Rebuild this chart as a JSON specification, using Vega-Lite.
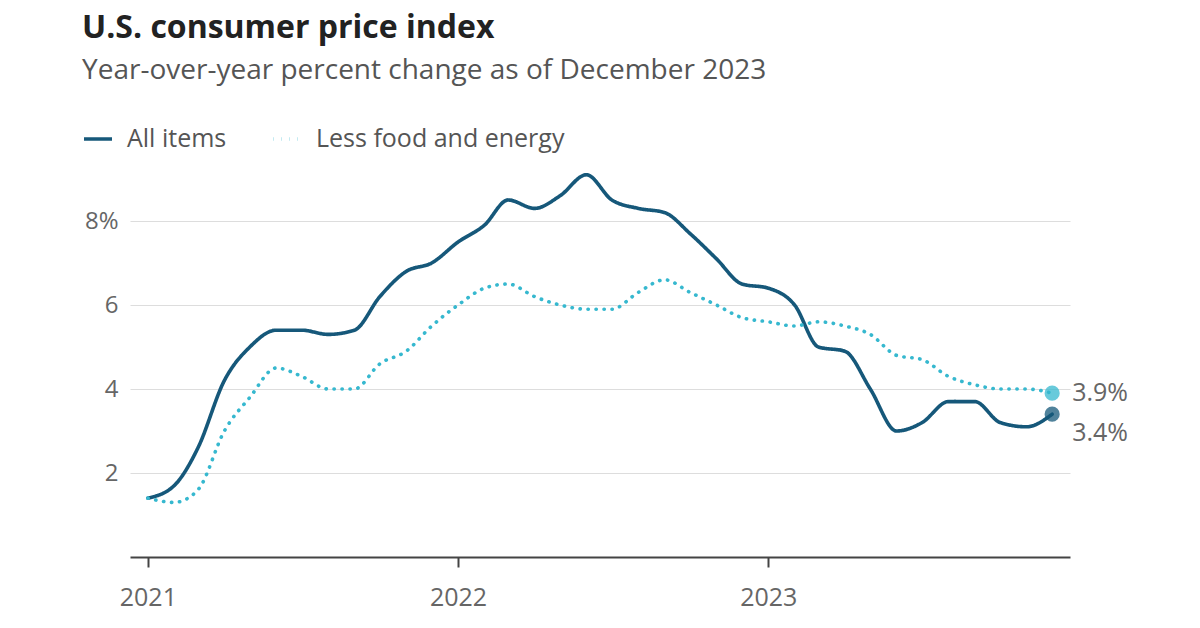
{
  "$schema": "https://vega.github.io/schema/vega-lite/v6.json",
  "width": 940,
  "height": 420,
  "autosize": {"type": "none"},
  "padding": {"left": 130, "top": 137, "right": 130, "bottom": 71},
  "background": "white",
  "title": {
    "text": "U.S. consumer price index",
    "subtitle": "Year-over-year percent change as of December 2023",
    "anchor": "start",
    "frame": "group",
    "dx": -48,
    "offset": 37,
    "font": "Open Sans",
    "fontSize": 32,
    "fontWeight": "bold",
    "color": "#222222",
    "subtitleFont": "Open Sans",
    "subtitleFontSize": 28,
    "subtitleColor": "#555555",
    "subtitlePadding": 12
  },
  "config": {
    "view": {"stroke": null},
    "font": "Open Sans"
  },
  "datasets": {
    "cpi": [
      {"date": "2021-01-01", "series": "All items", "value": 1.4},
      {"date": "2021-02-01", "series": "All items", "value": 1.7},
      {"date": "2021-03-01", "series": "All items", "value": 2.6},
      {"date": "2021-04-01", "series": "All items", "value": 4.2},
      {"date": "2021-05-01", "series": "All items", "value": 5.0},
      {"date": "2021-06-01", "series": "All items", "value": 5.4},
      {"date": "2021-07-01", "series": "All items", "value": 5.4},
      {"date": "2021-08-01", "series": "All items", "value": 5.3},
      {"date": "2021-09-01", "series": "All items", "value": 5.4},
      {"date": "2021-10-01", "series": "All items", "value": 6.2},
      {"date": "2021-11-01", "series": "All items", "value": 6.8},
      {"date": "2021-12-01", "series": "All items", "value": 7.0},
      {"date": "2022-01-01", "series": "All items", "value": 7.5},
      {"date": "2022-02-01", "series": "All items", "value": 7.9},
      {"date": "2022-03-01", "series": "All items", "value": 8.5},
      {"date": "2022-04-01", "series": "All items", "value": 8.3},
      {"date": "2022-05-01", "series": "All items", "value": 8.6},
      {"date": "2022-06-01", "series": "All items", "value": 9.1},
      {"date": "2022-07-01", "series": "All items", "value": 8.5},
      {"date": "2022-08-01", "series": "All items", "value": 8.3},
      {"date": "2022-09-01", "series": "All items", "value": 8.2},
      {"date": "2022-10-01", "series": "All items", "value": 7.7},
      {"date": "2022-11-01", "series": "All items", "value": 7.1},
      {"date": "2022-12-01", "series": "All items", "value": 6.5},
      {"date": "2023-01-01", "series": "All items", "value": 6.4},
      {"date": "2023-02-01", "series": "All items", "value": 6.0},
      {"date": "2023-03-01", "series": "All items", "value": 5.0},
      {"date": "2023-04-01", "series": "All items", "value": 4.9},
      {"date": "2023-05-01", "series": "All items", "value": 4.0},
      {"date": "2023-06-01", "series": "All items", "value": 3.0},
      {"date": "2023-07-01", "series": "All items", "value": 3.2},
      {"date": "2023-08-01", "series": "All items", "value": 3.7},
      {"date": "2023-09-01", "series": "All items", "value": 3.7},
      {"date": "2023-10-01", "series": "All items", "value": 3.2},
      {"date": "2023-11-01", "series": "All items", "value": 3.1},
      {"date": "2023-12-01", "series": "All items", "value": 3.4},
      {"date": "2021-01-01", "series": "Less food and energy", "value": 1.4},
      {"date": "2021-02-01", "series": "Less food and energy", "value": 1.3},
      {"date": "2021-03-01", "series": "Less food and energy", "value": 1.6},
      {"date": "2021-04-01", "series": "Less food and energy", "value": 3.0},
      {"date": "2021-05-01", "series": "Less food and energy", "value": 3.8},
      {"date": "2021-06-01", "series": "Less food and energy", "value": 4.5},
      {"date": "2021-07-01", "series": "Less food and energy", "value": 4.3},
      {"date": "2021-08-01", "series": "Less food and energy", "value": 4.0},
      {"date": "2021-09-01", "series": "Less food and energy", "value": 4.0},
      {"date": "2021-10-01", "series": "Less food and energy", "value": 4.6},
      {"date": "2021-11-01", "series": "Less food and energy", "value": 4.9},
      {"date": "2021-12-01", "series": "Less food and energy", "value": 5.5},
      {"date": "2022-01-01", "series": "Less food and energy", "value": 6.0},
      {"date": "2022-02-01", "series": "Less food and energy", "value": 6.4},
      {"date": "2022-03-01", "series": "Less food and energy", "value": 6.5},
      {"date": "2022-04-01", "series": "Less food and energy", "value": 6.2},
      {"date": "2022-05-01", "series": "Less food and energy", "value": 6.0},
      {"date": "2022-06-01", "series": "Less food and energy", "value": 5.9},
      {"date": "2022-07-01", "series": "Less food and energy", "value": 5.9},
      {"date": "2022-08-01", "series": "Less food and energy", "value": 6.3},
      {"date": "2022-09-01", "series": "Less food and energy", "value": 6.6},
      {"date": "2022-10-01", "series": "Less food and energy", "value": 6.3},
      {"date": "2022-11-01", "series": "Less food and energy", "value": 6.0},
      {"date": "2022-12-01", "series": "Less food and energy", "value": 5.7},
      {"date": "2023-01-01", "series": "Less food and energy", "value": 5.6},
      {"date": "2023-02-01", "series": "Less food and energy", "value": 5.5},
      {"date": "2023-03-01", "series": "Less food and energy", "value": 5.6},
      {"date": "2023-04-01", "series": "Less food and energy", "value": 5.5},
      {"date": "2023-05-01", "series": "Less food and energy", "value": 5.3},
      {"date": "2023-06-01", "series": "Less food and energy", "value": 4.8},
      {"date": "2023-07-01", "series": "Less food and energy", "value": 4.7},
      {"date": "2023-08-01", "series": "Less food and energy", "value": 4.3},
      {"date": "2023-09-01", "series": "Less food and energy", "value": 4.1},
      {"date": "2023-10-01", "series": "Less food and energy", "value": 4.0},
      {"date": "2023-11-01", "series": "Less food and energy", "value": 4.0},
      {"date": "2023-12-01", "series": "Less food and energy", "value": 3.9}
    ]
  },
  "data": {"name": "cpi"},
  "encoding": {
    "x": {
      "field": "date",
      "type": "temporal",
      "scale": {
        "type": "utc",
        "domain": [
          {"year": 2020, "month": 12, "date": 11, "utc": true},
          {"year": 2023, "month": 12, "date": 22, "utc": true}
        ]
      },
      "axis": {
        "title": null,
        "values": [
          {"year": 2021, "month": 1, "date": 1, "utc": true},
          {"year": 2022, "month": 1, "date": 1, "utc": true},
          {"year": 2023, "month": 1, "date": 1, "utc": true}
        ],
        "format": "%Y",
        "formatType": "utc",
        "grid": false,
        "domainColor": "#444444",
        "domainWidth": 2,
        "tickColor": "#444444",
        "tickWidth": 2,
        "tickSize": 10,
        "labelPadding": 18,
        "labelFontSize": 25,
        "labelColor": "#666666",
        "labelFont": "Open Sans"
      }
    },
    "y": {
      "field": "value",
      "type": "quantitative",
      "scale": {"domain": [0, 10], "nice": false, "zero": true},
      "axis": {
        "title": null,
        "values": [2, 4, 6, 8],
        "labelExpr": "datum.value == 8 ? '8%' : datum.label",
        "domain": false,
        "ticks": false,
        "grid": true,
        "gridColor": "#dddddd",
        "gridWidth": 1.2,
        "labelPadding": 12,
        "labelFontSize": 24,
        "labelColor": "#666666",
        "labelFont": "Open Sans"
      }
    }
  },
  "layer": [
    {
      "mark": {"type": "line", "interpolate": "monotone", "strokeWidth": 3.6, "strokeCap": "round"},
      "encoding": {
        "color": {
          "field": "series",
          "type": "nominal",
          "scale": {"domain": ["All items", "Less food and energy"], "range": ["#16587a", "#36b8cf"]},
          "legend": {
            "title": null,
            "orient": "none",
            "legendX": -48,
            "legendY": -14,
            "direction": "horizontal",
            "symbolType": "stroke",
            "symbolSize": 784,
            "symbolStrokeWidth": 3.6,
            "labelFontSize": 25,
            "labelColor": "#555555",
            "labelFont": "Open Sans",
            "labelLimit": 400,
            "labelOffset": 13,
            "columnPadding": 38
          }
        },
        "strokeDash": {
          "field": "series",
          "type": "nominal",
          "scale": {"domain": ["All items", "Less food and energy"], "range": [[1, 0], [0.3, 7.7]]},
          "legend": {
            "title": null,
            "orient": "none",
            "legendX": -48,
            "legendY": -14,
            "direction": "horizontal",
            "symbolType": "stroke",
            "symbolSize": 784,
            "symbolStrokeWidth": 3.6,
            "labelFontSize": 25,
            "labelColor": "#555555",
            "labelFont": "Open Sans",
            "labelLimit": 400,
            "labelOffset": 13,
            "columnPadding": 38
          }
        }
      }
    },
    {
      "transform": [{"filter": "year(datum.date) == 2023 && month(datum.date) == 11"}],
      "mark": {"type": "point", "filled": true, "size": 230, "opacity": 0.75},
      "encoding": {
        "color": {"field": "series", "type": "nominal", "legend": null}
      }
    },
    {
      "transform": [
        {"filter": "year(datum.date) == 2023 && month(datum.date) == 11 && datum.series == 'Less food and energy'"},
        {"calculate": "format(datum.value, '.1f') + '%'", "as": "label"}
      ],
      "mark": {"type": "text", "align": "left", "baseline": "middle", "dx": 20, "dy": 0, "fontSize": 25, "color": "#666666", "font": "Open Sans"},
      "encoding": {"text": {"field": "label", "type": "nominal"}}
    },
    {
      "transform": [
        {"filter": "year(datum.date) == 2023 && month(datum.date) == 11 && datum.series == 'All items'"},
        {"calculate": "format(datum.value, '.1f') + '%'", "as": "label"}
      ],
      "mark": {"type": "text", "align": "left", "baseline": "middle", "dx": 20, "dy": 19, "fontSize": 25, "color": "#666666", "font": "Open Sans"},
      "encoding": {"text": {"field": "label", "type": "nominal"}}
    }
  ]
}
